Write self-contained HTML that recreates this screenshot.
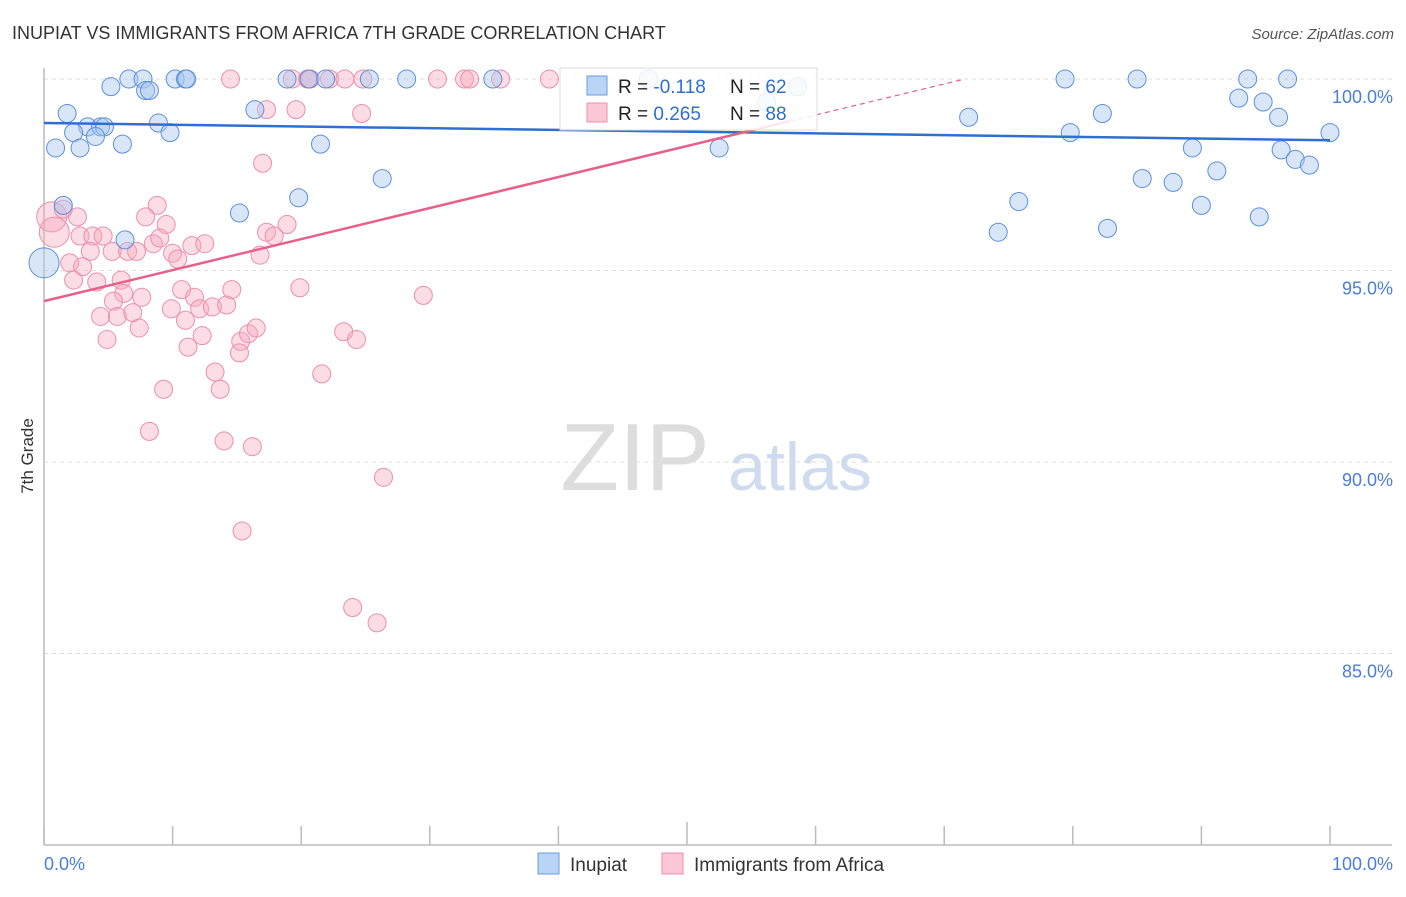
<!DOCTYPE html>
<html><head><meta charset="utf-8"><style>
body{margin:0;background:#fff;font-family:"Liberation Sans",sans-serif}
svg text{font-family:"Liberation Sans",sans-serif}
</style></head><body>
<svg id="chart" width="1406" height="892" viewBox="0 0 1406 892">
<text x="12" y="39" font-size="18" fill="#333">INUPIAT VS IMMIGRANTS FROM AFRICA 7TH GRADE CORRELATION CHART</text>
<text x="1394" y="39" font-size="15" fill="#555" font-style="italic" text-anchor="end">Source: ZipAtlas.com</text>
<text x="33" y="456" font-size="17" fill="#333" transform="rotate(-90 33 456)" text-anchor="middle">7th Grade</text>
<text x="635" y="490" font-size="96" fill="#ddd" font-family="Liberation Serif" text-anchor="middle">ZIP</text>
<text x="800" y="490" font-size="68" fill="#cfdcf0" text-anchor="middle">atlas</text>
<g id="grid"></g><g id="axes"></g><g id="pts"></g><g id="lines"></g>
<g>
<rect x="560" y="68" width="257" height="62" fill="#fff" fill-opacity="0.85" stroke="#ddd"/>
<rect x="587" y="76" width="20" height="19" fill="#b9d4f5" stroke="#6a9be0"/>
<rect x="587" y="103" width="20" height="19" fill="#fbc6d5" stroke="#ec8fab"/>
<text x="618" y="93" font-size="19" fill="#222">R = <tspan fill="#2f6fd1">-0.118</tspan><tspan x="730">N = </tspan><tspan fill="#2f6fd1">62</tspan></text>
<text x="618" y="120" font-size="19" fill="#222">R = <tspan fill="#2f6fd1">0.265</tspan><tspan x="730">N = </tspan><tspan fill="#2f6fd1">88</tspan></text>
</g>
<g>
<rect x="538" y="853" width="21" height="21" fill="#b9d4f5" stroke="#6a9be0"/>
<text x="570" y="871" font-size="19" fill="#333">Inupiat</text>
<rect x="662" y="853" width="21" height="21" fill="#fbc6d5" stroke="#ec8fab"/>
<text x="694" y="871" font-size="19" fill="#333">Immigrants from Africa</text>
</g>
</svg>
<script>
const yTicks=[100,95,90,85];
const yTickLabels=["100.0%","95.0%","90.0%","85.0%"];
const xTickValues=[0,10,20,30,40,50,60,70,80,90,100];
const blueX=[6.6,7.7,10.2,11.0,11.1,18.9,20.6,21.9,25.3,28.2,34.9,47.0,58.6,79.4,85.0,93.6,96.7,5.2,7.9,8.2,16.4,1.8,8.9,3.4,4.4,4.7,2.3,9.8,4.0,0.9,2.8,6.1,21.5,52.5,82.3,71.9,79.8,92.9,94.8,96.0,100,89.3,96.2,97.3,98.4,91.2,85.4,87.8,26.3,19.8,75.8,90.0,94.5,15.2,1.5,74.2,82.7,6.3,0,56.2];
const blueY=[100,100,100,100,100,100,100,100,100,100,100,100,99.8,100,100,100,100,99.8,99.7,99.7,99.2,99.1,98.85,98.75,98.75,98.75,98.6,98.6,98.5,98.2,98.2,98.3,98.3,98.2,99.1,99.0,98.6,99.5,99.4,99.0,98.6,98.2,98.15,97.9,97.75,97.6,97.4,97.3,97.4,96.9,96.8,96.7,96.4,96.5,96.7,96.0,96.1,95.8,95.2,99.4];
const pinkX=[14.5,19.3,20.5,20.7,22.2,23.4,24.8,30.6,32.7,33.1,35.5,39.3,17.3,19.6,24.7,17.0,8.8,7.9,9.5,2.6,0.6,0.8,1.5,2.8,3.8,4.6,3.6,5.3,6.5,7.2,8.5,9.0,10.0,10.4,11.5,12.5,17.3,17.9,18.9,16.8,2.0,3.0,2.3,4.1,6.0,6.2,7.6,5.4,4.4,5.7,6.9,7.4,4.9,10.7,11.7,12.1,13.1,14.2,14.6,9.9,11.0,12.3,11.2,15.3,15.9,16.5,15.2,19.9,23.3,24.3,29.5,13.3,21.6,9.3,13.7,8.2,14.0,16.2,26.4,15.4,24.0,25.9];
const pinkY=[100,100,100,100,100,100,100,100,100,100,100,100,99.2,99.2,99.1,97.8,96.7,96.4,96.2,96.4,96.4,96.0,96.6,95.9,95.9,95.9,95.5,95.5,95.5,95.5,95.7,95.85,95.45,95.3,95.65,95.7,96.0,95.9,96.2,95.4,95.2,95.1,94.75,94.7,94.75,94.4,94.3,94.2,93.8,93.8,93.9,93.5,93.2,94.5,94.3,94.0,94.05,94.1,94.5,94.0,93.7,93.3,93.0,93.15,93.35,93.5,92.85,94.55,93.4,93.2,94.35,92.35,92.3,91.9,91.9,90.8,90.55,90.4,89.6,88.2,86.2,85.8];
const blueBig=[58];
const pinkBig=[20,21];
const blueTrend=[98.85,98.4];
const pinkTrend=[94.2,0.081];
const NS="http://www.w3.org/2000/svg";
const X0=44,X1=1330,Y100=79,PXPER=38.3;
function sx(v){return X0+(X1-X0)*v/100;}
function sy(v){return Y100+(100-v)*PXPER;}
function mk(tag,attrs,parent){const e=document.createElementNS(NS,tag);for(const k in attrs)e.setAttribute(k,attrs[k]);parent.appendChild(e);return e;}
const grid=document.getElementById('grid'),axes=document.getElementById('axes'),pts=document.getElementById('pts'),lines=document.getElementById('lines');
yTicks.forEach((t,i)=>{
 const l=mk('line',{x1:X0,x2:1392,y1:sy(t),y2:sy(t),stroke:'#ddd','stroke-dasharray':'4,4'},grid);
 
 
 const tx=mk('text',{x:1393,y:sy(t)+24,'font-size':18,fill:'#4a7fd6','text-anchor':'end'},grid);
 tx.textContent=yTickLabels[i];
 
 
});
const ax=mk('line',{x1:X0,x2:1392,y1:845,y2:845,stroke:'#bbb','stroke-width':1.5},axes);


const ay=mk('line',{x1:X0,x2:X0,y1:68,y2:845,stroke:'#bbb','stroke-width':1.5},axes);


xTickValues.forEach(v=>{
 const t=mk('line',{x1:sx(v),x2:sx(v),y1:(v===50?822:826),y2:845,stroke:'#bbb','stroke-width':1.5},axes);
 
 
});
const xl=mk('text',{x:44,y:870,'font-size':18,fill:'#4a7fd6'},axes);xl.textContent='0.0%';


const xr=mk('text',{x:1393,y:870,'font-size':18,fill:'#4a7fd6','text-anchor':'end'},axes);xr.textContent='100.0%';


pinkX.forEach((x,i)=>{
 const c=mk('circle',{cx:sx(x),cy:sy(pinkY[i]),r:pinkBig.includes(i)?15:9,fill:'#f7a8bf','fill-opacity':0.4,stroke:'#ec8fab','stroke-width':1},pts);
 
 
});
blueX.forEach((x,i)=>{
 const c=mk('circle',{cx:sx(x),cy:sy(blueY[i]),r:blueBig.includes(i)?15:9,fill:'#a9c8f0','fill-opacity':0.45,stroke:'#5d91dc','stroke-width':1},pts);
 
 
});
const bl=mk('line',{x1:sx(0),y1:sy(blueTrend[0]),x2:sx(100),y2:sy(blueTrend[1]),stroke:'#2f6fd1','stroke-width':2.5},lines);


function py(x){return pinkTrend[0]+pinkTrend[1]*x;}
const pl=mk('line',{x1:sx(0),y1:sy(py(0)),x2:sx(58),y2:sy(py(58)),stroke:'#e8608a','stroke-width':2.5},lines);


const xEnd=(100-pinkTrend[0])/pinkTrend[1];
const pd=mk('line',{x1:sx(58),y1:sy(py(58)),x2:sx(xEnd),y2:sy(100),stroke:'#e8608a','stroke-width':1.2,'stroke-dasharray':'5,4'},lines);


</script>
</body></html>
